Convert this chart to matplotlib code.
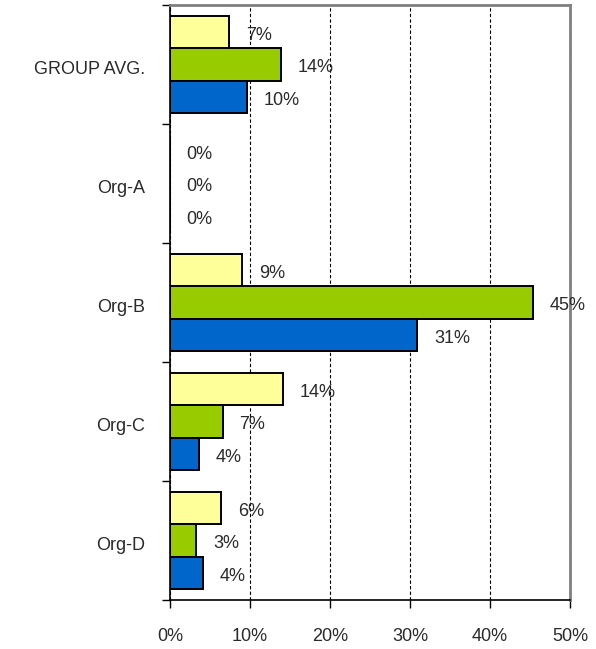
import numpy as np
import matplotlib.pyplot as plt
import matplotlib.transforms as mtransforms
from matplotlib.ticker import FixedLocator, NullFormatter

plt.rcParams['font.family'] = ['Liberation Sans', 'DejaVu Sans']

categories = ['GROUP AVG.', 'Org-A', 'Org-B', 'Org-C', 'Org-D']
yellow_vals = [7.4, 0.0, 9.0, 14.1, 6.4]
green_vals = [13.9, 0.0, 45.4, 6.6, 3.3]
blue_vals = [9.6, 0.0, 30.9, 3.6, 4.1]
xticks = [0, 10, 20, 30, 40, 50]

series = [
    (yellow_vals, '#FFFF99'),
    (green_vals, '#99CC00'),
    (blue_vals, '#0066CC'),
]

fig = plt.figure(figsize=(5.96, 6.49), dpi=100)
ax = fig.add_axes([170 / 596, 1 - 600 / 649, 400 / 596, 595 / 649])

y = np.arange(len(categories))
h = 0.27
fs = 13
txtcol = '#2a2a2a'
for k, (vals, col) in enumerate(series):
    pos = y + (k - 1) * h
    ax.barh(pos, vals, height=h, color=col, edgecolor='black', linewidth=1.4, zorder=3)
    for p, v in zip(pos, vals):
        ax.annotate('%d%%' % round(v), xy=(v, p), xytext=(12, -2.5),
                    textcoords='offset points', ha='left', va='center',
                    fontsize=fs, color=txtcol, zorder=4)

ax.set_xlim(0, 50)
ax.set_ylim(len(categories) - 0.5, -0.5)

ax.set_xticks(xticks)
ax.set_xticklabels(['%d%%' % t for t in xticks])
ax.tick_params(axis='x', direction='out', length=6, width=1, pad=14, labelsize=fs, labelcolor=txtcol)
ax.grid(axis='x', linestyle=(0, (3, 2)), color='black', linewidth=0.8, zorder=0)

ax.set_yticks(y)
ax.set_yticklabels(categories)
ax.tick_params(axis='y', length=0, pad=18, labelsize=fs, labelcolor=txtcol)
shift = mtransforms.ScaledTranslation(0, -3 / 100, fig.dpi_scale_trans)
for lbl in ax.get_yticklabels():
    lbl.set_transform(lbl.get_transform() + shift)
ax.yaxis.set_minor_locator(FixedLocator(np.arange(-0.5, len(categories), 1.0)))
ax.yaxis.set_minor_formatter(NullFormatter())
ax.tick_params(axis='y', which='minor', direction='out', length=6, width=1)

for s in ['left', 'bottom']:
    ax.spines[s].set_color('black')
    ax.spines[s].set_linewidth(1.2)
for s in ['top', 'right']:
    ax.spines[s].set_color('#808080')
    ax.spines[s].set_linewidth(2)

fig.savefig('out.png', dpi=100)
